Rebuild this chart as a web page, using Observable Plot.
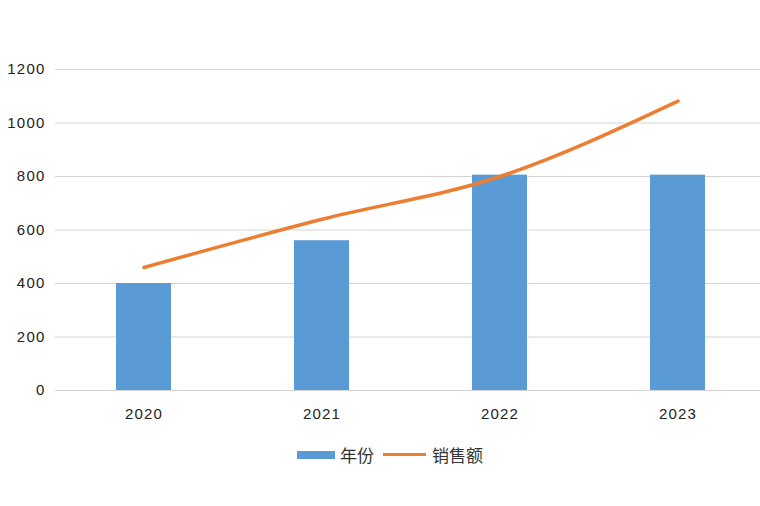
<!DOCTYPE html>
<html>
<head>
<meta charset="utf-8">
<script src="https://cdn.jsdelivr.net/npm/d3@7"></script>
<script src="https://cdn.jsdelivr.net/npm/@observablehq/plot@0.6"></script>
<style>
  html, body { margin: 0; padding: 0; background: #fff; }
  #chart { width: 760px; }
  #chart svg text { letter-spacing: 1.2px; }
  .legend { display: flex; align-items: center; justify-content: flex-start; padding-left: 297px; margin-top: 12px;
    font-family: "Noto Sans CJK SC", sans-serif; font-size: 17px; color: #333; }
  .sw-bar { width: 38px; height: 8px; background: #5B9BD5; margin-right: 5px; }
  .sw-line { width: 43px; height: 3px; background: #ED7D31; margin: 0 6px 0 9px; }
</style>
</head>
<body>
<div id="chart"></div>
<script>
const years = ["2020", "2021", "2022", "2023"];
const yearValues = [400, 560, 805, 805];   // 年份 (bars)
const salesValues = [460, 640, 800, 1082]; // 销售额 (line)
const yTicks = [0, 200, 400, 600, 800, 1000, 1200];

const rows = years.map((y, i) => ({year: y, bar: yearValues[i], sales: salesValues[i]}));

const chart = Plot.plot({
  width: 760,
  height: 430,
  marginTop: 69,
  marginBottom: 40,
  marginLeft: 55,
  marginRight: 0,
  style: {fontFamily: "Liberation Sans, Arial, sans-serif", fontSize: "15px", color: "#222"},
  x: {domain: years, paddingInner: 0.69, paddingOuter: 0.318, align: 0.53, label: null},
  y: {domain: [0, 1200], label: null},
  marks: [
    Plot.gridY(yTicks, {stroke: "#d4d4d4", strokeOpacity: 1, strokeWidth: 1}),
    Plot.barY(rows, {x: "year", y: "bar", fill: "#5B9BD5"}),
    Plot.line(rows, {x: "year", y: "sales", stroke: "#ED7D31", strokeWidth: 3.5, curve: "monotone-x", strokeLinecap: "round"}),
    Plot.axisY(yTicks, {tickSize: 0, tickPadding: 10, fontSize: 15, fill: "#222", tickFormat: d => String(d)}),
    Plot.axisX({tickSize: 0, tickPadding: 18, fontSize: 15, fill: "#222"})
  ]
});
document.getElementById("chart").appendChild(chart);

const legend = document.createElement("div");
legend.className = "legend";
legend.innerHTML = '<div class="sw-bar"></div><span>年份</span><div class="sw-line"></div><span>销售额</span>';
document.getElementById("chart").appendChild(legend);
</script>
</body>
</html>
